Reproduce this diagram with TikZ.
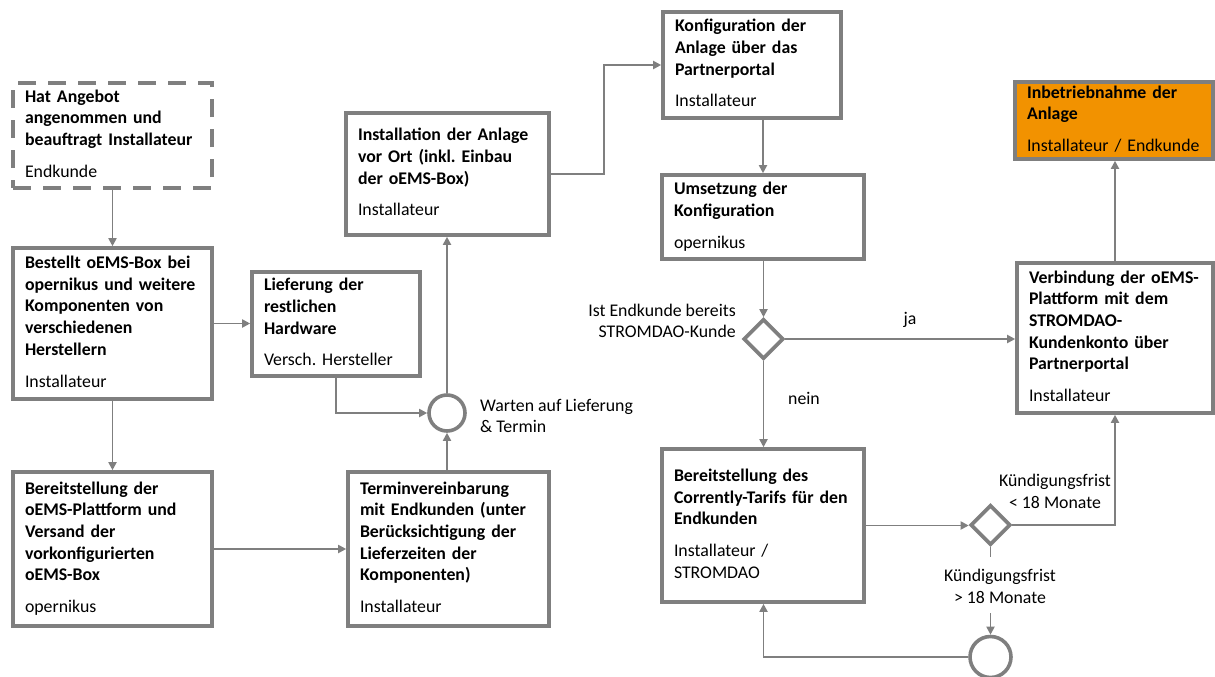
\documentclass[tikz,border=0pt]{standalone}
\usepackage{fontspec}
\setmainfont{Carlito}
\usepackage{array}
\usetikzlibrary{arrows.meta,shapes.geometric,calc}
\definecolor{bgray}{RGB}{127,127,127}
\definecolor{lgray}{RGB}{127,127,127}
\definecolor{orfill}{RGB}{242,146,0}
\newcommand{\bt}[1]{\textbf{#1}}
\frenchspacing
\begin{document}
\begin{tikzpicture}[x=1pt,y=-1pt,
  every node/.style={font=\fontsize{17.8pt}{21.7pt}\selectfont\frenchspacing, text=black},
  box/.style={draw=bgray, line width=3.6pt, fill=white, rectangle, inner xsep=12pt, inner ysep=0pt, align=left},
  dbox/.style={box, dash pattern=on 18pt off 12pt},
  obox/.style={box, fill=orfill},
  dia/.style={draw=bgray, line width=3.6pt, diamond, aspect=1, inner sep=0pt, minimum width=40pt, minimum height=40pt},
  circ/.style={draw=bgray, line width=3.6pt, circle, inner sep=0pt},
  lbl/.style={inner sep=0pt},
  conn/.style={draw=lgray, line width=1.8pt, -{Triangle[length=8pt,width=8pt]}},
  plain/.style={draw=lgray, line width=1.8pt}]
\useasboundingbox (0,0) rectangle (1215,677);

% boxes
\node[dbox, text width=175pt, minimum height=105pt] (A) at (112.5,135.5)
  {\begin{tabular}{@{}l@{}}\bt{Hat Angebot}\\ \bt{angenommen und}\\ \bt{beauftragt Installateur}\\[10pt] Endkunde\end{tabular}};
\node[box, text width=175pt, minimum height=151pt] (B) at (112.5,323.5)
  {\begin{tabular}{@{}l@{}}\bt{Bestellt oEMS-Box bei}\\ \bt{opernikus und weitere}\\ \bt{Komponenten von}\\ \bt{verschiedenen}\\ \bt{Herstellern}\\[10pt] Installateur\end{tabular}};
\node[box, text width=175pt, minimum height=154pt] (C) at (112.5,549)
  {\begin{tabular}{@{}l@{}}\bt{Bereitstellung der}\\ \bt{oEMS-Plattform und}\\ \bt{Versand der}\\ \bt{vorkonfigurierten}\\ \bt{oEMS-Box}\\[10pt] opernikus\end{tabular}};
\node[box, text width=144pt, minimum height=104pt] (D) at (336,324)
  {\begin{tabular}{@{}l@{}}\bt{Lieferung der}\\ \bt{restlichen}\\ \bt{Hardware}\\[10pt] Versch. Hersteller\end{tabular}};
\node[box, text width=177pt, minimum height=154pt] (E) at (448.5,549)
  {\begin{tabular}{@{}l@{}}\bt{Terminvereinbarung}\\ \bt{mit Endkunden (unter}\\ \bt{Berücksichtigung der}\\ \bt{Lieferzeiten der}\\ \bt{Komponenten)}\\[10pt] Installateur\end{tabular}};
\node[box, text width=179pt, minimum height=122pt] (F) at (447.5,174)
  {\begin{tabular}{@{}l@{}}\bt{Installation der Anlage}\\ \bt{vor Ort (inkl. Einbau}\\ \bt{der oEMS-Box)}\\[10pt] Installateur\end{tabular}};
\node[box, text width=154pt, minimum height=106pt] (G) at (752,65)
  {\begin{tabular}{@{}l@{}}\bt{Konfiguration der}\\ \bt{Anlage über das}\\ \bt{Partnerportal}\\[10pt] Installateur\end{tabular}};
\node[box, text width=178pt, minimum height=84pt] (H) at (763,217)
  {\begin{tabular}{@{}l@{}}\bt{Umsetzung der}\\ \bt{Konfiguration}\\[10pt] opernikus\end{tabular}};
\node[box, text width=178pt, minimum height=153pt] (K) at (763,525.5)
  {\begin{tabular}{@{}l@{}}\bt{Bereitstellung des}\\ \bt{Correntl{}y-Tarifs für den}\\ \bt{Endkunden}\\[10pt] Installateur /\\ STROMDAO\end{tabular}};
\node[box, text width=172pt, minimum height=150pt] (I) at (1115,338)
  {\begin{tabular}{@{}l@{}}\bt{Verbindung der oEMS-}\\ \bt{Plattform mit dem}\\ \bt{STROMDAO-}\\ \bt{Kundenkonto über}\\ \bt{Partnerportal}\\[10pt] Installateur\end{tabular}};
\node[obox, text width=174pt, minimum height=77pt] (J) at (1114,120.5)
  {\begin{tabular}{@{}l@{}}\bt{Inbetriebnahme der}\\ \bt{Anlage}\\[10pt] Installateur / Endkunde\end{tabular}};

% decision / wait shapes
\node[circ, minimum size=36pt] (W) at (447,413) {};
\node[dia] (D1) at (763.5,339) {};
\node[dia] (D2) at (990.5,525) {};
\node[circ, minimum size=41pt] (C2) at (990.5,657) {};

% labels
\node[lbl, anchor=west, align=left] (wl) at (480,416) {Warten auf Lieferung\\\& Termin};
\node[lbl, anchor=east, align=right] (ql) at (736,321) {Ist Endkunde bereits\\STROMDAO-Kunde};
\node[lbl] (ja) at (910,320) {ja};
\node[lbl] (nein) at (804,398) {nein};
\node[lbl, align=center] (k1) at (1055,491.5) {Kündigungsfrist\\< 18 Monate};
\node[lbl, align=center] (k2) at (1000,586.5) {Kündigungsfrist\\> 18 Monate};

% connectors
\coordinate (fg) at (604,0);
\coordinate (k2b) at (990.5,613);
\coordinate (d2s) at (990.5,557);
\draw[conn] (A.south) -- (B.north);
\draw[conn] (B.south) -- (C.north);
\draw[conn] (B.east) -- (B.east -| D.west);
\draw[conn] (D.south) |- (W.west);
\draw[conn] (W.south |- E.north) -- (W.south);
\draw[conn] (W.north) -- (W.north |- F.south);
\draw[conn] (C.east) -- (C.east -| E.west);
\draw[conn] (F.east) -- (F.east -| fg) |- (G.west);
\draw[conn] (G.south -| H.north) -- (H.north);
\draw[conn] (H.south -| D1.north) -- (D1.north);
\draw[conn] (D1.east) -- (D1.east -| I.west);
\draw[conn] (D1.south) -- (D1.south |- K.north);
\draw[conn] (K.east) -- (K.east -| D2.west);
\draw[conn] (D2.east) -| (I.south);
\draw[conn] (I.north) -- (I.north |- J.south);
\draw[plain] (D2.south) -- (d2s);
\draw[conn] (k2b) -- (C2.north);
\draw[conn] (C2.west) -| (K.south -| D1.south);
\end{tikzpicture}
\end{document}
